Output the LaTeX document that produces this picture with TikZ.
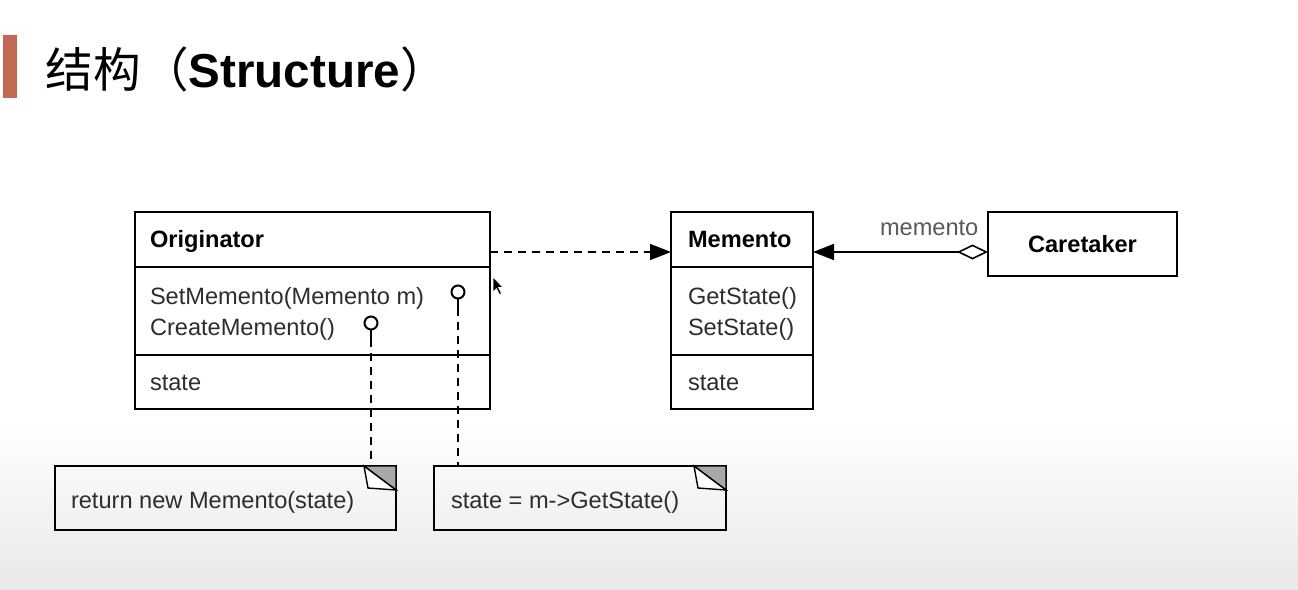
\documentclass[tikz,border=0pt]{standalone}
\usepackage{fontspec}
\setmainfont{Liberation Sans}
\newfontfamily\cjkfont{Noto Sans CJK SC}
\usetikzlibrary{arrows.meta}
\definecolor{barred}{RGB}{197,104,82}
\definecolor{ink}{RGB}{45,45,45}
\definecolor{notefold}{RGB}{168,168,168}

\begin{document}
\begin{tikzpicture}[x=0.5pt,y=-0.5pt,
  every node/.style={inner sep=0pt,outer sep=0pt},
  classbox/.style={draw=black,line width=1pt,rectangle},
  notebox/.style={draw=black,line width=1pt,rectangle},
  head/.style={anchor=base west,font=\fontsize{11.8pt}{14pt}\selectfont\bfseries,text=black},
  member/.style={anchor=base west,font=\fontsize{11.8pt}{14pt}\selectfont,text=ink},
  divider/.style={line width=1pt},
  dep/.style={line width=0.8pt,dash pattern=on 4pt off 3pt},
  lolli/.style={circle,draw=black,line width=1pt,minimum size=6.5pt,fill=white},
  fold/.style={draw=black,line width=0.7pt},
]
% page background with the soft grey fade at the bottom
\fill[white] (0,0) rectangle (1298,590);
\shade[top color=white,bottom color=black!9] (0,420) rectangle (1298,590);
\useasboundingbox (0,0) rectangle (1298,590);

% heading
\fill[barred] (3,35) rectangle (17,98);
\node[anchor=base west,font=\fontsize{23.8pt}{28pt}\selectfont,text=black] (title) at (46,87)
  {{\cjkfont 结构（}\textbf{Structure}{\cjkfont ）}};

% Originator class
\node[classbox,minimum width=177.5pt,minimum height=98.5pt] (orig) at (312.5,310.5) {};
\draw[divider] (orig.west |- 0,267) -- (orig.east |- 0,267);
\draw[divider] (orig.west |- 0,355) -- (orig.east |- 0,355);
\node[head] (origname) at (150,247) {Originator};
\node[member] (setmem) at (150,304) {SetMemento(Memento m)};
\node[member] (createmem) at (150,335) {CreateMemento()};
\node[member] (ostate) at (150,390) {state};

% Memento class
\node[classbox,minimum width=71pt,minimum height=98.5pt] (mem) at (742,310.5) {};
\draw[divider] (mem.west |- 0,267) -- (mem.east |- 0,267);
\draw[divider] (mem.west |- 0,355) -- (mem.east |- 0,355);
\node[head] (memname) at (688,247) {Memento};
\node[member] (getstate) at (688,304) {GetState()};
\node[member] (setstate) at (688,335) {SetState()};
\node[member] (mstate) at (688,390) {state};

% Caretaker class
\node[classbox,minimum width=94.5pt,minimum height=32pt,
      font=\fontsize{11.8pt}{14pt}\selectfont\bfseries] (care) at (1082.5,244) {Caretaker};

% notes with folded corner
\node[notebox,minimum width=170.5pt,minimum height=32pt] (note1) at (225.5,498) {};
\node[member] (note1txt) at (71,508) {return new Memento(state)};
\filldraw[fold,fill=notefold] ([xshift=-16pt]note1.north east) -- (note1.north east)
  -- ([yshift=-12pt]note1.north east) -- cycle;
\filldraw[fold,fill=white] ([xshift=-16pt]note1.north east)
  -- ([xshift=-14pt,yshift=-11pt]note1.north east)
  -- ([yshift=-12pt]note1.north east) -- cycle;

\node[notebox,minimum width=146pt,minimum height=32pt] (note2) at (580,498) {};
\node[member] (note2txt) at (451,508) {state = m->GetState()};
\filldraw[fold,fill=notefold] ([xshift=-16pt]note2.north east) -- (note2.north east)
  -- ([yshift=-12pt]note2.north east) -- cycle;
\filldraw[fold,fill=white] ([xshift=-16pt]note2.north east)
  -- ([xshift=-14pt,yshift=-11pt]note2.north east)
  -- ([yshift=-12pt]note2.north east) -- cycle;

% operation lollipops tied to their notes
\node[lolli] (lset) at (458,292) {};
\node[lolli] (lcreate) at (371,323) {};
\draw[line width=1pt] (lset.south) -- ++(0,9) coordinate (lset-end);
\draw[line width=1pt] (lcreate.south) -- ++(0,9) coordinate (lcreate-end);
\draw[dep] (lset-end) -- (lset-end |- note2.north);
\draw[dep] (lcreate-end) -- (lcreate-end |- note1.north);

% Originator creates Memento
\draw[dep,-{Triangle[length=10.5pt,width=8pt]}]
  ([yshift=-20pt]orig.north east) -- ([yshift=-20pt]mem.north west);

% Caretaker holds a memento
\draw[line width=0.8pt,{Diamond[open,length=15.5pt,width=7.5pt]}-{Triangle[length=10.5pt,width=8pt]}]
  ([yshift=-20pt]care.north west) -- ([yshift=-20pt]mem.north east);
\node[member,text=black!65] (rolelabel) at (880,235) {memento};

% mouse pointer
\filldraw[fill=black,draw=white,line width=0.3pt]
  (493,277) -- (493,292) -- (496.5,288.5) -- (499.5,294.5) -- (501.5,293.5)
  -- (498.5,287.5) -- (503,287.5) -- cycle;
\end{tikzpicture}
\end{document}
